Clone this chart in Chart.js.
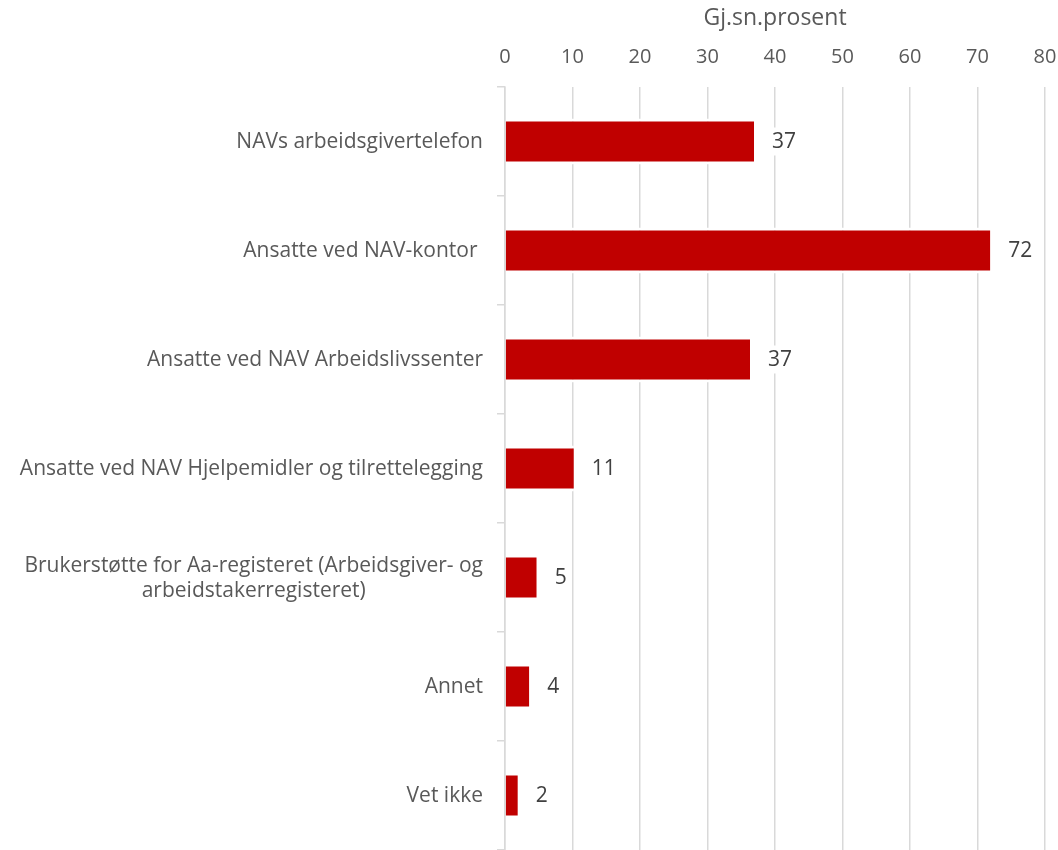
<!DOCTYPE html>
<html>
<head>
<meta charset="utf-8">
<script src="https://cdn.jsdelivr.net/npm/chart.js@4.4.0/dist/chart.umd.min.js"></script>
<style>
  body { margin:0; background:#fff; }
  #wrap { width:1058px; height:850px; position:relative; }
</style>
</head>
<body>
<div id="wrap"><canvas id="grafico"></canvas></div>
<script>
// =====================================
// DATA
// =====================================

const kategorier = [
    ["NAVs arbeidsgivertelefon"],
    ["Ansatte ved NAV-kontor "],
    ["Ansatte ved NAV Arbeidslivssenter"],
    ["Ansatte ved NAV Hjelpemidler og tilrettelegging"],
    ["Brukerstøtte for Aa-registeret (Arbeidsgiver- og", "arbeidstakerregisteret)"],
    ["Annet"],
    ["Vet ikke"]
];

const verdier = [36.9, 71.9, 36.3, 10.2, 4.7, 3.6, 1.9];

const etiketter = ["37", "72", "37", "11", "5", "4", "2"];

const aksetittel = "Gj.sn.prosent";

const FONT = "'Open Sans', sans-serif";


// =====================================
// PLUGINS
// =====================================

// kategoritekst til venstre, sentrert linje for linje
const kategoriTekst = {
    id:"kategoriTekst",
    afterDraw(chart){
        const ctx = chart.ctx;
        const y = chart.scales.y;
        ctx.save();
        ctx.font = "21px " + FONT;
        ctx.fillStyle = "#595959";
        ctx.textAlign = "center";
        ctx.textBaseline = "middle";
        const hoyre = y.right - 22;
        const lh = 25;
        kategorier.forEach((linjer, i)=>{
            const py = y.getPixelForValue(i) + 1;
            const bredest = Math.max(...linjer.map(l=>ctx.measureText(l).width));
            const start = py - (linjer.length - 1) * lh / 2;
            linjer.forEach((l, j)=>{
                ctx.fillText(l, hoyre - bredest / 2, start + j * lh);
            });
        });
        ctx.restore();
    }
};

// verdietiketter til hoyre for stolpene
const verdiTekst = {
    id:"verdiTekst",
    afterDatasetsDraw(chart){
        const ctx = chart.ctx;
        const meta = chart.getDatasetMeta(0);
        ctx.save();
        ctx.font = "21px " + FONT;
        ctx.textAlign = "left";
        ctx.textBaseline = "middle";
        meta.data.forEach((bar, i)=>{
            const tx = bar.x + 18;
            const w = ctx.measureText(etiketter[i]).width;
            ctx.fillStyle = "#ffffff";
            ctx.fillRect(tx - 3, bar.y - 14, w + 6, 28);
            ctx.fillStyle = "#404040";
            ctx.fillText(etiketter[i], tx, bar.y + 1);
        });
        ctx.restore();
    }
};


// =====================================
// GRAFIKK
// =====================================

new Chart(document.getElementById("grafico"),{
    type:"bar",
    data:{
        labels: kategorier,
        datasets:[{
            data: verdier,
            backgroundColor:"#c00000",
            borderColor:"#ffffff",
            borderWidth:{top:3, bottom:3, left:0, right:0},
            borderSkipped:false,
            barPercentage:0.422,
            categoryPercentage:1
        }]
    },
    options:{
        indexAxis:"y",
        responsive:true,
        maintainAspectRatio:false,
        animation:false,
        layout:{ padding:{ left:0, right:13, top:0, bottom:0 } },
        plugins:{
            legend:{ display:false },
            tooltip:{ enabled:false }
        },
        scales:{
            x:{
                position:"top",
                min:0,
                max:80,
                ticks:{
                    stepSize:10,
                    color:"#595959",
                    font:{ family:FONT, size:20 },
                    padding:18
                },
                grid:{
                    color:"#d9d9d9",
                    lineWidth:1.5,
                    drawTicks:false
                },
                border:{ display:false },
                title:{
                    display:true,
                    text:aksetittel,
                    color:"#595959",
                    font:{ family:FONT, size:23 },
                    padding:{ top:5, bottom:0 }
                },
                afterFit(scale){
                    scale.height = 87;
                    scale.paddingLeft = 0;
                    scale.paddingRight = 0;
                }
            },
            y:{
                ticks:{ display:false },
                grid:{
                    drawOnChartArea:false,
                    drawTicks:true,
                    tickLength:8,
                    color:"#d9d9d9",
                    lineWidth:1.5,
                    offset:true
                },
                border:{ color:"#d9d9d9", width:1.5 },
                afterFit(scale){ scale.width = 505; }
            }
        }
    },
    plugins:[kategoriTekst, verdiTekst]
});
</script>
</body>
</html>
